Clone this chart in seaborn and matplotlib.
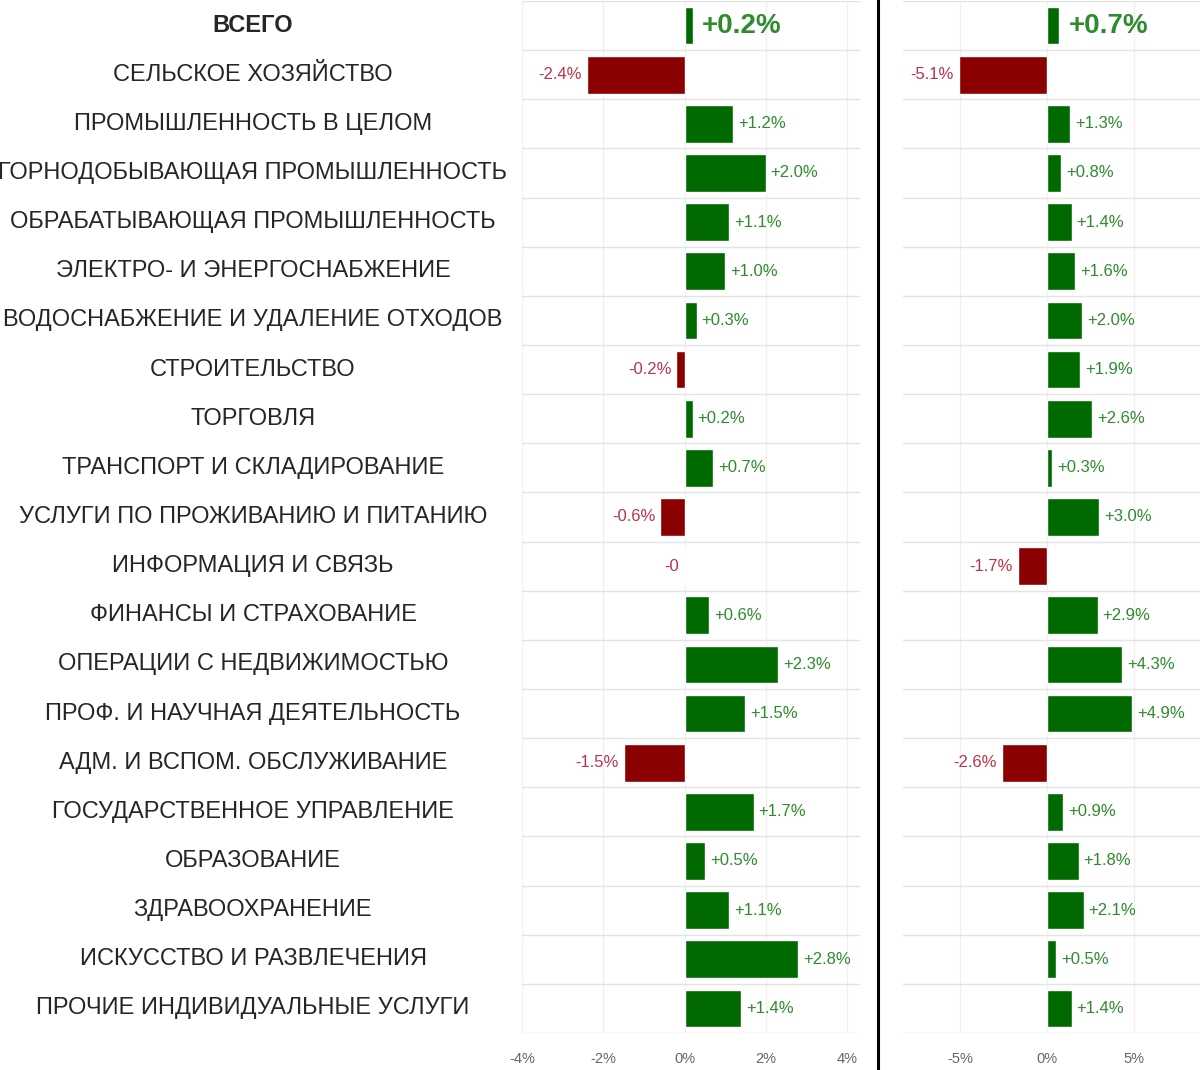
import numpy as np
import pandas as pd
import seaborn as sns
import matplotlib.pyplot as plt
import matplotlib.transforms as mtransforms

# Categories (top to bottom)
categories = [
    'ВСЕГО', 'СЕЛЬСКОЕ ХОЗЯЙСТВО', 'ПРОМЫШЛЕННОСТЬ В ЦЕЛОМ',
    'ГОРНОДОБЫВАЮЩАЯ ПРОМЫШЛЕННОСТЬ', 'ОБРАБАТЫВАЮЩАЯ ПРОМЫШЛЕННОСТЬ',
    'ЭЛЕКТРО- И ЭНЕРГОСНАБЖЕНИЕ', 'ВОДОСНАБЖЕНИЕ И УДАЛЕНИЕ ОТХОДОВ',
    'СТРОИТЕЛЬСТВО', 'ТОРГОВЛЯ', 'ТРАНСПОРТ И СКЛАДИРОВАНИЕ',
    'УСЛУГИ ПО ПРОЖИВАНИЮ И ПИТАНИЮ', 'ИНФОРМАЦИЯ И СВЯЗЬ',
    'ФИНАНСЫ И СТРАХОВАНИЕ', 'ОПЕРАЦИИ С НЕДВИЖИМОСТЬЮ',
    'ПРОФ. И НАУЧНАЯ ДЕЯТЕЛЬНОСТЬ', 'АДМ. И ВСПОМ. ОБСЛУЖИВАНИЕ',
    'ГОСУДАРСТВЕННОЕ УПРАВЛЕНИЕ', 'ОБРАЗОВАНИЕ', 'ЗДРАВООХРАНЕНИЕ',
    'ИСКУССТВО И РАЗВЛЕЧЕНИЯ', 'ПРОЧИЕ ИНДИВИДУАЛЬНЫЕ УСЛУГИ',
]

# Left panel values (%)
left_values = [0.2, -2.4, 1.2, 2.0, 1.1, 1.0, 0.3, -0.2, 0.2, 0.7, -0.6,
               -0.02, 0.6, 2.3, 1.5, -1.5, 1.7, 0.5, 1.1, 2.8, 1.4]
left_labels = ['+0.2%', '-2.4%', '+1.2%', '+2.0%', '+1.1%', '+1.0%', '+0.3%',
               '-0.2%', '+0.2%', '+0.7%', '-0.6%', '-0', '+0.6%', '+2.3%',
               '+1.5%', '-1.5%', '+1.7%', '+0.5%', '+1.1%', '+2.8%', '+1.4%']

# Right panel values (%)
right_values = [0.7, -5.1, 1.3, 0.8, 1.4, 1.6, 2.0, 1.9, 2.6, 0.3, 3.0,
                -1.7, 2.9, 4.3, 4.9, -2.6, 0.9, 1.8, 2.1, 0.5, 1.4]
right_labels = ['+0.7%', '-5.1%', '+1.3%', '+0.8%', '+1.4%', '+1.6%', '+2.0%',
                '+1.9%', '+2.6%', '+0.3%', '+3.0%', '-1.7%', '+2.9%', '+4.3%',
                '+4.9%', '-2.6%', '+0.9%', '+1.8%', '+2.1%', '+0.5%', '+1.4%']

left_ticks = [-4, -2, 0, 2, 4]
right_ticks = [-5, 0, 5]

sns.set_theme(style='white')
plt.rcParams['font.family'] = ['Liberation Sans', 'DejaVu Sans']

BAR_GREEN = '#006a00'
BAR_RED = '#8b0000'
TXT_GREEN = '#2e8b2e'
TXT_RED = '#b8344a'

fig = plt.figure(figsize=(12, 10.7), dpi=100)
ax_bottom = 37 / 1070
ax_h = 1 - ax_bottom - 1 / 1070
ax1 = fig.add_axes([522 / 1200, ax_bottom, (860 - 522) / 1200, ax_h])
ax2 = fig.add_axes([903 / 1200, ax_bottom, (1200 - 903) / 1200, ax_h])


def draw_panel(ax, values, labels, xlim, ticks, px_per_unit):
    df = pd.DataFrame({'cat': categories, 'val': values})
    df['sign'] = np.where(df['val'] >= 0, 'pos', 'neg')
    sns.barplot(data=df, x='val', y='cat', hue='sign', order=categories,
                palette={'pos': BAR_GREEN, 'neg': BAR_RED}, dodge=False,
                width=0.77, legend=False, ax=ax, saturation=1)
    ax.set_xlim(*xlim)
    ax.set_ylim(len(categories) - 0.5, -0.5)
    ax.set_xticks(ticks)
    ax.set_xticklabels([f'{t}%' for t in ticks], color='#666666', fontsize=10.5)
    ax.set_yticks(np.arange(len(categories)) + 0.5, minor=True)
    ax.set_yticks([])
    ax.set_xlabel('')
    ax.set_ylabel('')
    ax.grid(which='minor', axis='y', color='#e3e3e3', lw=1)
    ax.grid(which='major', axis='x', color='#f0f0f0', lw=1)
    ax.axhline(-0.5, color='#e3e3e3', lw=1)
    ax.tick_params(axis='x', length=0, pad=14)
    ax.tick_params(axis='y', which='both', length=0)
    for s in ax.spines.values():
        s.set_visible(False)
    for i, (v, lab) in enumerate(zip(values, labels)):
        big = i == 0
        off = (9 if big else 5) / px_per_unit
        col = TXT_GREEN if v >= 0 else TXT_RED
        ha = 'left' if v >= 0 else 'right'
        x = v + off if v >= 0 else v - off
        ax.text(x, i, lab, ha=ha, va='center', color=col,
                fontsize=20 if big else 12,
                fontweight='bold' if big else 'normal')


draw_panel(ax1, left_values, left_labels, (-3.97, 4.32), left_ticks, 40.75)
draw_panel(ax2, right_values, right_labels, (-8.3, 8.79), right_ticks, 17.4)

# category labels, centered in the left margin
trans = mtransforms.blended_transform_factory(fig.transFigure, ax1.transData)
for i, c in enumerate(categories):
    ax1.text(253 / 1200, i, c, transform=trans, ha='center', va='center',
             fontsize=17, color='#262626', clip_on=False,
             fontweight='bold' if i == 0 else 'normal')

# divider between panels
fig.add_artist(plt.Line2D([878 / 1200, 878 / 1200], [0, 1],
                          transform=fig.transFigure, color='black', lw=2.2))

fig.savefig('out.png', dpi=100, facecolor='white')
